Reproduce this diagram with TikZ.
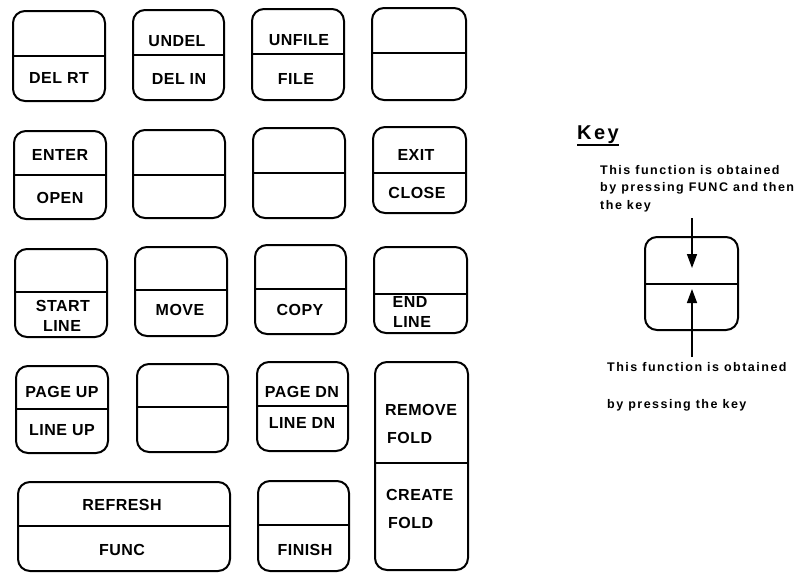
\documentclass[tikz,border=0pt]{standalone}
\usepackage{fontspec}
\setmainfont{Liberation Sans}
\newfontfamily\keyfont{Liberation Sans}[LetterSpace=3]
\newfontfamily\legfont{Liberation Sans}[LetterSpace=12]
\usetikzlibrary{arrows.meta}
\tikzset{
  keyshape/.style={draw, line width=2pt, rounded corners=12pt, inner sep=0pt},
  divline/.style={line width=1.5pt},
  keytxt/.style={font=\keyfont\bfseries\fontsize{16}{18}\selectfont, inner sep=0pt},
  legtxt/.style={font=\legfont\bfseries\fontsize{12.5}{14}\selectfont, inner sep=0pt, anchor=west},
  arr/.style={line width=1.5pt, -{Triangle[width=10pt,length=14pt]}}
}
\newcommand\kbox[6]{%
  \node[keyshape, minimum width={(#4-#2)*1pt}, minimum height={(#5-#3)*1pt}] (#1) at ({(#2+#4)/2},{(#3+#5)/2}) {};
  \coordinate (#1-l) at (#2,#6);
  \coordinate (#1-r) at (#4,#6);
  \draw[divline] (#1-l) -- (#1-r);
}
\begin{document}
\begin{tikzpicture}[x=1pt,y=-1pt]
\useasboundingbox (0,0) rectangle (796,574);
% row 1
\kbox{k11}{13}{11}{105}{101}{56}
\kbox{k12}{133}{10}{224}{100}{55}
\kbox{k13}{252}{9}{344}{100}{54}
\kbox{k14}{372}{8}{466}{100}{53}
\node[keytxt] (t11b) at (59,78) {DEL RT};
\node[keytxt] (t12a) at (177,41) {UNDEL};
\node[keytxt] (t12b) at (179,79) {DEL IN};
\node[keytxt] (t13a) at (299,40) {UNFILE};
\node[keytxt] (t13b) at (296,79) {FILE};
% row 2
\kbox{k21}{14}{131}{106}{219}{175}
\kbox{k22}{133}{130}{225}{218}{175}
\kbox{k23}{253}{128}{345}{218}{173}
\kbox{k24}{373}{127}{466}{213}{173}
\node[keytxt] (t21a) at (60,155) {ENTER};
\node[keytxt] (t21b) at (60,198) {OPEN};
\node[keytxt] (t24a) at (416,155) {EXIT};
\node[keytxt] (t24b) at (417,193) {CLOSE};
% row 3
\kbox{k31}{15}{249}{107}{337}{292}
\kbox{k32}{135}{247}{227}{336}{290}
\kbox{k33}{255}{245}{346}{334}{289}
\kbox{k34}{374}{247}{467}{333}{294}
\node[keytxt] (t31b) at (63,306) {START};
\node[keytxt] (t31c) at (62,326) {LINE};
\node[keytxt] (t32b) at (180,310) {MOVE};
\node[keytxt] (t33b) at (300,310) {COPY};
\node[keytxt] (t34b) at (410,302) {END};
\node[keytxt] (t34c) at (412,322) {LINE};
% row 4
\kbox{k41}{16}{366}{108}{453}{409}
\kbox{k42}{137}{364}{228}{452}{407}
\kbox{k43}{257}{362}{348}{451}{406}
\node[keytxt] (t41a) at (62,392) {PAGE UP};
\node[keytxt] (t41b) at (62,430) {LINE UP};
\node[keytxt] (t43a) at (302,392) {PAGE DN};
\node[keytxt] (t43b) at (302,423) {LINE DN};
% tall key
\kbox{k44}{375}{362}{468}{570}{463}
\node[keytxt, anchor=west] (t44a) at (385,410) {REMOVE};
\node[keytxt, anchor=west] (t44b) at (387,438) {FOLD};
\node[keytxt, anchor=west] (t44c) at (386,495) {CREATE};
\node[keytxt, anchor=west] (t44d) at (388,523) {FOLD};
% row 5
\kbox{k51}{18}{482}{230}{571}{526}
\kbox{k52}{258}{481}{349}{571}{525}
\node[keytxt] (t51a) at (122,505) {REFRESH};
\node[keytxt] (t51b) at (122,550) {FUNC};
\node[keytxt] (t52b) at (305,550) {FINISH};
% legend
\node[font=\legfont\bfseries\fontsize{20}{22}\selectfont, inner sep=0pt, anchor=west] (keyttl) at (577,135) {Key};
\draw[line width=1.6pt] (keyttl.south west) ++(0,1) coordinate (ul1) -- (keyttl.south east |- ul1) coordinate (ul2);
\node[legtxt] (l1) at (600,170) {This function is obtained};
\node[legtxt] (l2) at (600,188) {by pressing FUNC and then};
\node[legtxt] (l3) at (600,206) {the key};
\kbox{kl}{645}{237}{738}{330}{284}
\coordinate (a1s) at (692,218);
\coordinate (a1e) at (692,268);
\coordinate (a2s) at (692,357);
\coordinate (a2e) at (692,289);
\draw[arr] (a1s) -- (a1e);
\draw[arr] (a2s) -- (a2e);
\node[legtxt] (l4) at (607,367) {This function is obtained};
\node[legtxt] (l5) at (607,405) {by pressing the key};
\end{tikzpicture}
\end{document}
